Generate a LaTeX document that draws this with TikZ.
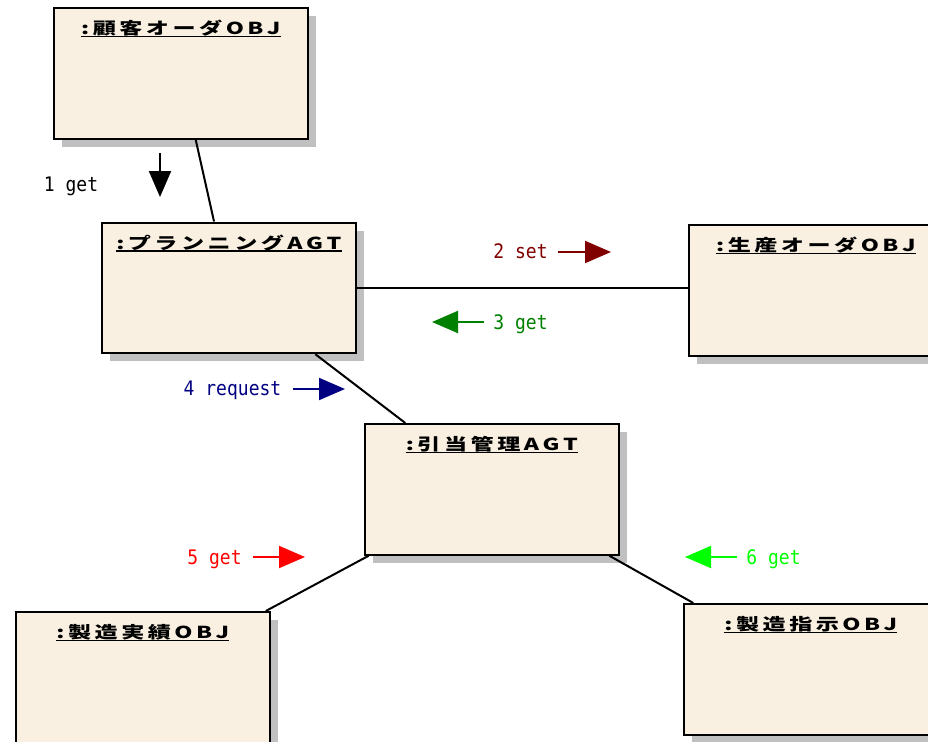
\documentclass[tikz,border=0pt]{standalone}
\usepackage{fontspec}
\usetikzlibrary{arrows.meta,shadows}
\newfontfamily\titlefont{Noto Sans CJK JP}[FakeStretch=1.4]
\newfontfamily\msgfont{DejaVu Sans Mono}[FakeStretch=0.9]
\definecolor{boxfill}{RGB}{250,240,226}
\definecolor{shadowgray}{RGB}{192,192,192}
\definecolor{msgdarkred}{RGB}{128,0,0}
\definecolor{msggreen}{RGB}{0,128,0}
\definecolor{msgnavy}{RGB}{0,0,128}
\definecolor{msgred}{RGB}{255,0,0}
\definecolor{msglime}{RGB}{0,255,0}
\makeatletter
\newcommand\gapped[1]{\let\gp@first\relax\@tfor\gp@c:=#1\do{\ifx\gp@first\relax\else\hspace{3.5pt}\fi\let\gp@first\empty\gp@c}}
\makeatother
\tikzset{
  objbox/.style={draw, line width=2.2pt, fill=boxfill, minimum width=253.5pt, minimum height=130.5pt,
    inner sep=0pt, anchor=north west,
    drop shadow={shadow xshift=8pt, shadow yshift=-8pt, fill=shadowgray, opacity=1}},
  objtitle/.style={font=\titlefont\bfseries\fontsize{16.5}{20}\selectfont, inner sep=0pt, anchor=base},
  uline/.style={line width=1.8pt},
  link/.style={line width=2pt},
  msglabel/.style={font=\msgfont\fontsize{20}{24}\selectfont, inner sep=0pt, anchor=base},
  msgarrow/.style={line width=2pt, -{Triangle[length=26pt,width=22pt]}},
}
\begin{document}
\begin{tikzpicture}[x=1pt,y=-1pt]
\useasboundingbox (0,0) rectangle (928,741);
\clip (0,0) rectangle (928,741);
% boxes
\node[objbox] (b1) at (53,7) {};
\node[objbox] (b2) at (101,221.5) {};
\node[objbox] (b3) at (688,224) {};
\node[objbox] (b4) at (364,423) {};
\node[objbox] (b5) at (15,611) {};
\node[objbox] (b6) at (683,603) {};
% titles
\foreach \b/\t in {b1/{:顧客オーダOBJ}, b2/{:プランニングAGT}, b3/{:生産オーダOBJ}, b4/{:引当管理AGT}, b5/{:製造実績OBJ}, b6/{:製造指示OBJ}}{
  \node[objtitle] (t\b) at ([yshift=-27.5pt]\b.north) {\expandafter\gapped\expandafter{\t}};
  \draw[uline] ([yshift=-2pt]t\b.base west) -- ([yshift=-2pt]t\b.base east);
}
% links
\draw[link] (b1) -- (b2);
\draw[link] (b2.east) -- (b2.east -| b3.west);
\draw[link] (b2) -- (b4);
\draw[link] (b4) -- (b5);
\draw[link] (b4) -- (b6);
% messages
\coordinate (a1s) at (160,153); \coordinate (a1e) at (160,197);
\draw[msgarrow, black] (a1s) -- (a1e);
\node[msglabel, text=black] (l1) at (71,191.5) {1 get};
\coordinate (a2s) at (558,252); \coordinate (a2e) at (611,252);
\draw[msgarrow, msgdarkred] (a2s) -- (a2e);
\node[msglabel, text=msgdarkred] (l2) at (520.5,258.5) {2 set};
\coordinate (a3s) at (484,322); \coordinate (a3e) at (432,322);
\draw[msgarrow, msggreen] (a3s) -- (a3e);
\node[msglabel, text=msggreen] (l3) at (520.5,329.5) {3 get};
\coordinate (a4s) at (293,389); \coordinate (a4e) at (345,389);
\draw[msgarrow, msgnavy] (a4s) -- (a4e);
\node[msglabel, text=msgnavy] (l4) at (232.5,395.5) {4 request};
\coordinate (a5s) at (253,557); \coordinate (a5e) at (305,557);
\draw[msgarrow, msgred] (a5s) -- (a5e);
\node[msglabel, text=msgred] (l5) at (214.5,564) {5 get};
\coordinate (a6s) at (737,557); \coordinate (a6e) at (685,557);
\draw[msgarrow, msglime] (a6s) -- (a6e);
\node[msglabel, text=msglime] (l6) at (773.5,564) {6 get};
\end{tikzpicture}
\end{document}
